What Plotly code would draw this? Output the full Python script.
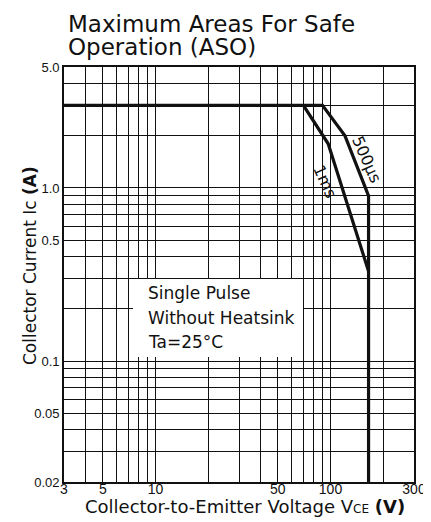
import math
import plotly.graph_objects as go

# ---- data ----
vce_500us = [3, 90, 121, 165, 165]
ic_500us = [3.0, 3.0, 2.0, 0.9, 0.02]
vce_1ms = [70, 97, 165]
ic_1ms = [3.0, 1.8, 0.33]

x_tickvals = [3, 5, 10, 50, 100, 300]
x_ticktext = ["3", "5", "10", "50", "100", "300"]
x_minor = [4, 6, 7, 8, 9, 20, 30, 40, 60, 70, 80, 90, 200]
y_tickvals = [0.02, 0.05, 0.1, 0.5, 1.0, 5.0]
y_ticktext = ["0.02", "0.05", "0.1", "0.5", "1.0", "5.0"]
y_minor = [0.03, 0.04, 0.06, 0.07, 0.08, 0.09, 0.2, 0.3, 0.4, 0.6, 0.7, 0.8, 0.9, 2, 3, 4]

FONT = "DejaVu Sans"
TICKFONT = "Liberation Sans"
INK = "#111111"

fig = go.Figure()
fig.add_trace(go.Scatter(x=vce_500us, y=ic_500us, mode="lines",
                         line=dict(color=INK, width=3.2), hoverinfo="skip", showlegend=False))
fig.add_trace(go.Scatter(x=vce_1ms, y=ic_1ms, mode="lines",
                         line=dict(color=INK, width=3.2), hoverinfo="skip", showlegend=False))

# page body has an 8px margin, so the figure is sized/offset accordingly
W, H = 423, 514
L, R, T, B = 56, 17, 59, 40
PW, PH = 350, 415          # plot area size
X0, Y0 = 64, 67            # plot area top-left on the page


def px(x):
    return (x - X0) / PW


def py(y):
    return 1 - (y - Y0) / PH


fig.update_layout(
    width=W, height=H,
    margin=dict(l=L, r=R, t=T, b=B, autoexpand=False),
    paper_bgcolor="white", plot_bgcolor="white",
    font=dict(family=FONT, color=INK, size=14),
    xaxis=dict(
        type="log", range=[math.log10(3), math.log10(300)],
        tickmode="array", tickvals=x_tickvals, ticktext=x_ticktext,
        showgrid=True, gridcolor=INK, gridwidth=1.1,
        minor=dict(tickmode="array", tickvals=x_minor, showgrid=True,
                   gridcolor=INK, gridwidth=1),
        showline=True, linecolor=INK, linewidth=1.6, mirror=True,
        ticks="", ticklen=0, zeroline=False, ticklabelstandoff=-7,
        tickfont=dict(family=TICKFONT, size=14, color=INK),
        automargin=False,
    ),
    yaxis=dict(
        type="log", range=[math.log10(0.02), math.log10(5)],
        tickmode="array", tickvals=y_tickvals, ticktext=y_ticktext,
        showgrid=True, gridcolor=INK, gridwidth=1.1,
        minor=dict(tickmode="array", tickvals=y_minor, showgrid=True,
                   gridcolor=INK, gridwidth=1),
        showline=True, linecolor=INK, linewidth=1.6, mirror=True,
        ticks="", ticklen=0, zeroline=False, ticklabelstandoff=0,
        tickfont=dict(family=TICKFONT, size=13, color=INK),
        automargin=False,
    ),
)

# axis titles
fig.add_annotation(text="Collector-to-Emitter Voltage V<span style='font-size:12px'>CE</span> <b>(V)</b>",
                   xref="paper", yref="paper", x=px(245), y=py(506),
                   xanchor="center", yanchor="middle", showarrow=False,
                   font=dict(family=FONT, size=18, color=INK))
fig.add_annotation(text="Collector Current Ic <b>(A)</b>",
                   xref="paper", yref="paper", x=px(30), y=py(266), textangle=-90,
                   xanchor="center", yanchor="middle", showarrow=False,
                   font=dict(family=FONT, size=17, color=INK))

# white box behind the condition text
fig.add_shape(type="rect", xref="paper", yref="paper",
              x0=px(133), x1=px(303), y0=py(357), y1=py(279),
              fillcolor="white", line=dict(width=0), layer="above")

for txt, yy in [("Single Pulse", 293), ("Without Heatsink", 318), ("Ta=25°C", 342)]:
    fig.add_annotation(text=txt, xref="paper", yref="paper", x=px(146), y=py(yy),
                       xanchor="left", yanchor="middle", showarrow=False,
                       font=dict(family=FONT, size=17, color=INK))

# curve labels
fig.add_annotation(text="500µs", xref="x", yref="y", x=math.log10(161), y=math.log10(1.46),
                   textangle=66, showarrow=False, font=dict(family=FONT, size=16, color=INK))
fig.add_annotation(text="1ms", xref="x", yref="y", x=math.log10(93), y=math.log10(1.09),
                   textangle=66, showarrow=False, font=dict(family=FONT, size=16, color=INK))

# title (two lines)
fig.add_annotation(text="Maximum Areas For Safe", xref="paper", yref="paper",
                   x=px(66), y=py(24), xanchor="left", yanchor="middle", showarrow=False,
                   font=dict(family=FONT, size=23, color=INK))
fig.add_annotation(text="Operation (ASO)", xref="paper", yref="paper",
                   x=px(66), y=py(47), xanchor="left", yanchor="middle", showarrow=False,
                   font=dict(family=FONT, size=23, color=INK))

fig.write_html("out.html")
